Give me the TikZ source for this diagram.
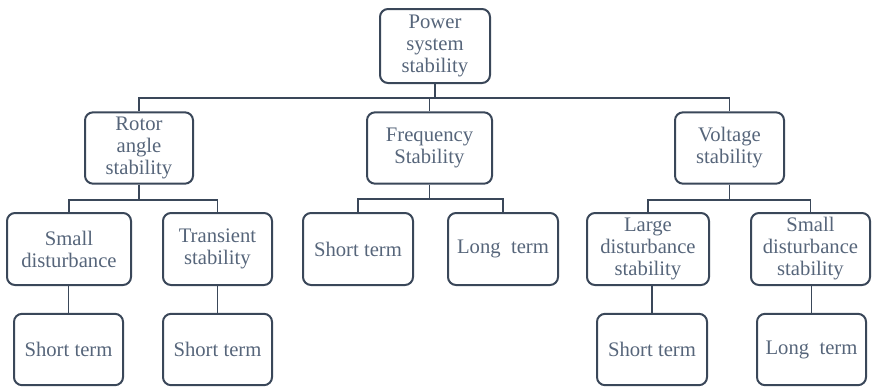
\documentclass[tikz,border=0pt]{standalone}
\usepackage{fontspec}
\setmainfont{Liberation Serif}
\newfontfamily\boxfont{Liberation Serif}
\usepackage{tikz}
\definecolor{boxline}{HTML}{3A4759}
\definecolor{boxtext}{HTML}{56657A}
\tikzset{%
	box/.style={draw=boxline, line width=1.5pt, rectangle, rounded corners=6pt,%
		align=center, inner sep=0mm, minimum height=53.5pt, text=boxtext,%
		font=\boxfont\fontsize{15.5}{16.5}\selectfont},
	conn/.style={draw=boxline, line width=1.4pt}
}

\begin{document}
\begin{tikzpicture}[x=0.75pt, y=-0.75pt]
	\useasboundingbox (0,0) rectangle (872,387);

	\node[box, minimum width=82.5pt, minimum height=55.5pt] (pss) at (435,46) {Power\\system\\stability};

	\node[box, minimum width=81pt] (rotor) at (139,148) {Rotor\\angle\\stability};
	\node[box, minimum width=93.75pt] (freq) at (429.5,148) {Frequency\\Stability};
	\node[box, minimum width=81.75pt] (volt) at (729.5,148) {Voltage\\stability};

	\node[box, minimum width=93pt, minimum height=54pt] (rsmall) at (69,249) {Small\\disturbance};
	\node[box, minimum width=81.75pt, minimum height=54pt] (rtrans) at (217.5,249) {Transient\\stability};
	\node[box, minimum width=82.5pt, minimum height=54pt] (fshort) at (358,249) {Short term};
	\node[box, minimum width=82.5pt, minimum height=54pt] (flong) at (503,249) {Long\ \ term};
	\node[box, minimum width=91.5pt, minimum height=54pt] (vlarge) at (648,249) {Large\\disturbance\\stability};
	\node[box, minimum width=89.25pt, minimum height=54pt] (vsmall) at (810.5,249) {Small\\disturbance\\stability};

	\node[box, minimum width=81.75pt] (rshort1) at (68.5,349.5) {Short term};
	\node[box, minimum width=81.75pt] (rshort2) at (217.5,349.5) {Short term};
	\node[box, minimum width=82.5pt] (vshort) at (652,349.5) {Short term};
	\node[box, minimum width=81.75pt] (vlong) at (811.5,349.5) {Long\ \ term};

	\draw[conn] (pss.south) -- ++(0,14) -| (rotor.north);
	\draw[conn] (pss.south) -- ++(0,14) -| (freq.north);
	\draw[conn] (pss.south) -- ++(0,14) -| (volt.north);

	\draw[conn] (rotor.south) -- ++(0,15) -| (rsmall.north);
	\draw[conn] (rotor.south) -- ++(0,15) -| (rtrans.north);
	\draw[conn] (freq.south) -- ++(0,14) -| (fshort.north);
	\draw[conn] (freq.south) -- ++(0,14) -| (flong.north);
	\draw[conn] (volt.south) -- ++(0,15) -| (vlarge.north);
	\draw[conn] (volt.south) -- ++(0,15) -| (vsmall.north);

	\draw[conn] (rshort1.north |- rsmall.south) -- (rshort1.north);
	\draw[conn] (rshort2.north |- rtrans.south) -- (rshort2.north);
	\draw[conn] (vshort.north |- vlarge.south) -- (vshort.north);
	\draw[conn] (vlong.north |- vsmall.south) -- (vlong.north);
\end{tikzpicture}
\end{document}
